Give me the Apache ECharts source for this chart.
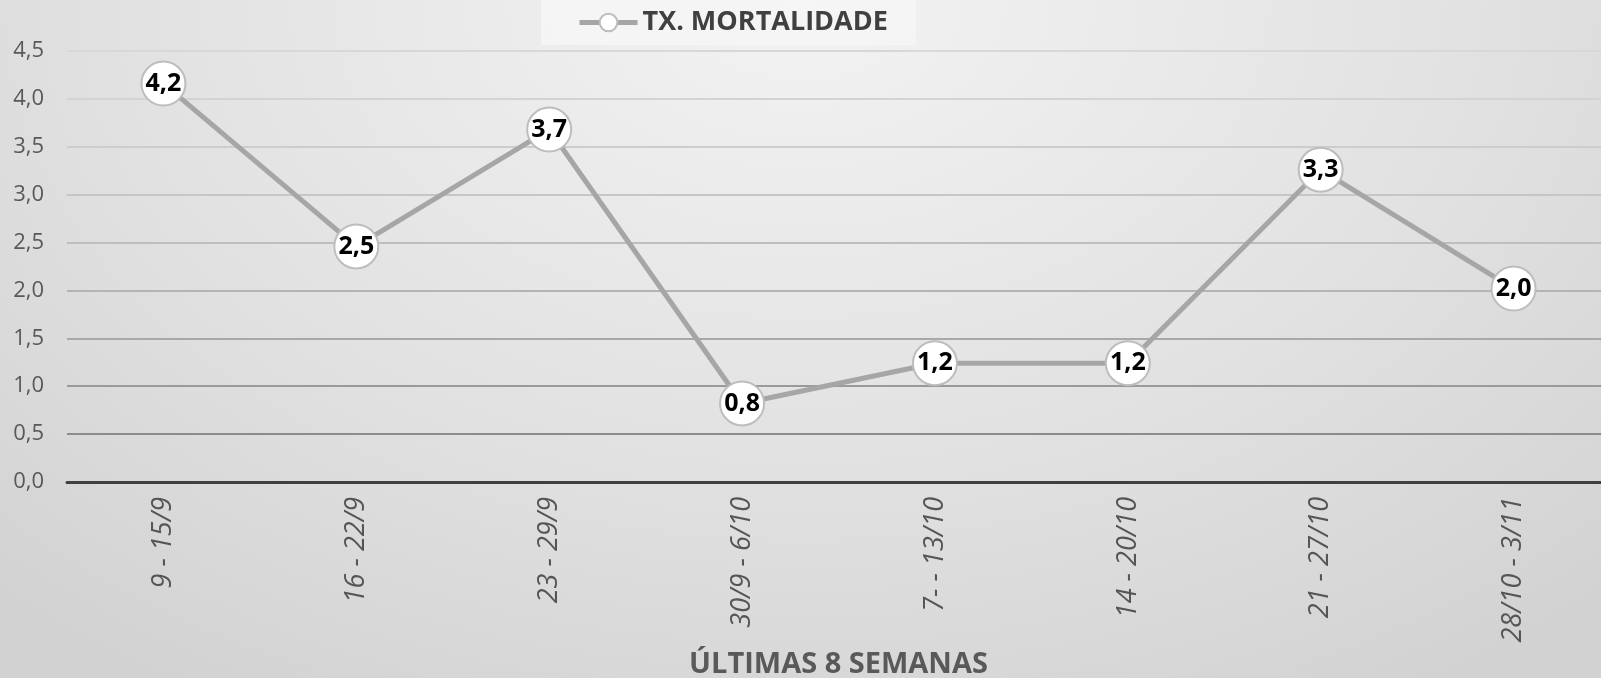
<!DOCTYPE html>
<html>
<head>
<meta charset="utf-8">
<script src="https://cdn.jsdelivr.net/npm/echarts@6/dist/echarts.min.js"></script>
<style>
html,body{margin:0;padding:0;}
#c{width:1601px;height:678px;background:radial-gradient(ellipse 75% 120% at 50% 0%, #f3f3f3 0%, #e2e2e2 55%, #d2d2d2 100%);}
</style>
</head>
<body>
<div id="c"></div>
<script>
const categories = ['9 - 15/9','16 - 22/9','23 - 29/9','30/9 - 6/10','7- - 13/10','14 - 20/10','21 - 27/10','28/10 - 3/11'];
const mortalidade = [4.16, 2.46, 3.68, 0.82, 1.24, 1.24, 3.26, 2.02];
const yTicks = [0, 0.5, 1.0, 1.5, 2.0, 2.5, 3.0, 3.5, 4.0, 4.5];
const seriesName = 'TX. MORTALIDADE';
const xAxisTitle = 'ÚLTIMAS 8 SEMANAS';

const fmt = v => v.toFixed(1).replace('.', ',');
const chart = echarts.init(document.getElementById('c'), null, {renderer:'canvas'});
chart.setOption({
  backgroundColor: 'transparent',
  textStyle: {fontFamily: 'Open Sans'},
  legend: {
    data: [seriesName],
    left: 541, top: 0,
    padding: [9, 28, 9, 36],
    backgroundColor: 'rgba(246,246,246,0.85)',
    itemWidth: 58, itemHeight: 22, itemGap: 5,
    lineStyle: {width: 5, color: '#a6a6a6'},
    textStyle: {fontSize: 27, fontWeight: 'bold', color: '#404040', fontFamily: 'Open Sans'}
  },
  grid: {left: 67, right: -9, top: 51, bottom: 196, containLabel: false, outerBoundsMode: 'none'},
  xAxis: {
    type: 'category',
    data: categories,
    boundaryGap: true,
    axisLine: {lineStyle: {color: '#404040', width: 3}},
    axisTick: {show: false},
    axisLabel: {rotate: 90, fontStyle: 'italic', fontSize: 27, color: '#555555', margin: 15, fontFamily: 'Open Sans'},
    name: xAxisTitle,
    nameLocation: 'middle',
    nameGap: 167,
    nameTextStyle: {fontSize: 29, fontWeight: 'bold', color: '#595959', fontFamily: 'Open Sans', verticalAlign: 'top'}
  },
  yAxis: {
    type: 'value',
    min: yTicks[0], max: yTicks[yTicks.length-1], interval: 0.5,
    axisLine: {show: false},
    axisTick: {show: false},
    axisLabel: {fontSize: 22, color: '#595959', margin: 23, formatter: v => fmt(v), fontFamily: 'Open Sans'},
    splitLine: {lineStyle: {width: 2, color: ['#404040','#8c8c8c','#9a9a9a','#a8a8a8','#b4b4b4','#bebebe','#c6c6c6','#cdcdcd','#d3d3d3','#d8d8d8']}}
  },
  series: [{
    name: seriesName,
    type: 'line',
    data: mortalidade,
    symbol: 'circle',
    symbolSize: 44,
    lineStyle: {color: '#a6a6a6', width: 5},
    itemStyle: {color: '#ffffff', borderColor: '#bdbdbd', borderWidth: 2},
    label: {show: true, position: 'inside', formatter: p => fmt(p.value), fontSize: 25, fontWeight: 'bold', color: '#000000', fontFamily: 'Open Sans'},
    z: 3
  }]
});
</script>
</body>
</html>
